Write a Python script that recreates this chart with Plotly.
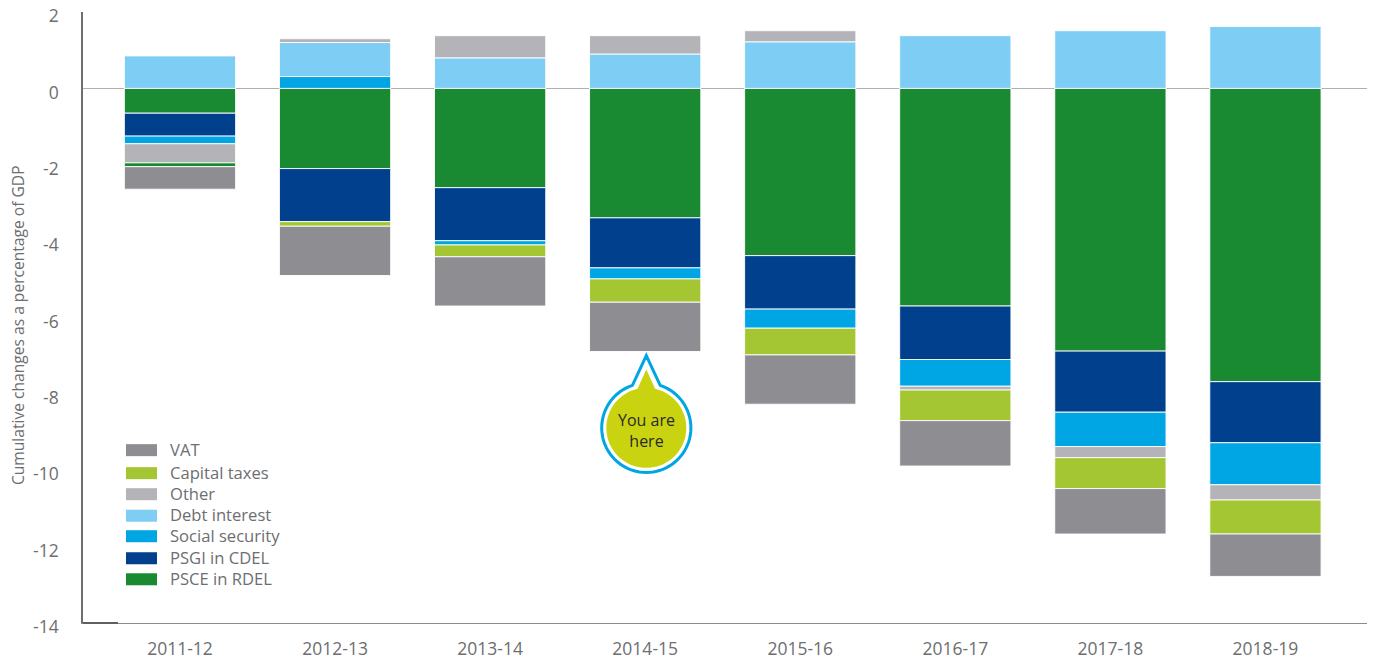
import math
import plotly.graph_objects as go

years = ["2011-12", "2012-13", "2013-14", "2014-15", "2015-16", "2016-17", "2017-18", "2018-19"]
psce_rdel = [-0.65, -2.10, -2.60, -3.39, -4.38, -5.70, -6.88, -7.68]
psgi_cdel = [-0.60, -1.39, -1.39, -1.31, -1.40, -1.40, -1.60, -1.60]
social_security = [-0.20, 0.31, -0.11, -0.29, -0.50, -0.70, -0.90, -1.10]
debt_interest = [0.85, 0.89, 0.80, 0.90, 1.22, 1.38, 1.51, 1.62]
other = [-0.50, 0.10, 0.58, 0.48, 0.29, -0.10, -0.29, -0.40]
capital_taxes = [-0.10, -0.12, -0.31, -0.61, -0.70, -0.80, -0.81, -0.89]
vat = [-0.59, -1.29, -1.29, -1.29, -1.29, -1.19, -1.19, -1.11]
y_ticks = [2, 0, -2, -4, -6, -8, -10, -12, -14]
y_title = "Cumulative changes as a percentage of GDP"
callout_text = "You are<br>here"

FONT = "Open Sans"
GREY = "#6d6e70"
C_VAT, C_CAP, C_OTHER, C_DEBT, C_SS, C_PSGI, C_PSCE = (
    "#8e8d92", "#a3c632", "#b4b3b8", "#7dcdf4", "#00a5e3", "#00408c", "#1a8a32")

# plot rectangle in page pixels
L, R, T, B = 83.0, 1367.0, 12.2, 622.7
W, H = 1375, 660
fx = lambda px: (px - L) / (R - L)
fy = lambda py: (B - py) / (B - T)

fig = go.Figure()
stack = [
    ("PSCE in RDEL", psce_rdel, C_PSCE),
    ("PSGI in CDEL", psgi_cdel, C_PSGI),
    ("Social security", social_security, C_SS),
    ("Debt interest", debt_interest, C_DEBT),
    ("Other", other, C_OTHER),
    ("Capital taxes", capital_taxes, [C_PSCE] + [C_CAP] * 7),
    ("VAT", vat, C_VAT),
]
for name, vals, col in stack:
    fig.add_trace(go.Bar(x=list(range(len(years))), y=vals, name=name, width=0.7175,
                         marker=dict(color=col, line=dict(color="rgba(255,255,255,0.9)", width=1))))

shapes, annotations = [], []

# legend
legend_rows = [("VAT", C_VAT, 450), ("Capital taxes", C_CAP, 473), ("Other", C_OTHER, 494),
               ("Debt interest", C_DEBT, 515.5), ("Social security", C_SS, 536),
               ("PSGI in CDEL", C_PSGI, 558), ("PSCE in RDEL", C_PSCE, 579)]
for label, col, py in legend_rows:
    shapes.append(dict(type="rect", xref="paper", yref="paper", x0=fx(126), x1=fx(157),
                       y0=fy(py - 6), y1=fy(py + 6), fillcolor=col, line_width=0))
    annotations.append(dict(text=label, xref="paper", yref="paper", x=fx(167.5), y=fy(py - 1),
                            xanchor="left", yanchor="middle", showarrow=False,
                            font=dict(family=FONT, size=16.6, color=GREY)))

# callout
def drop(cx, cy, r, tip_y, half, shoulder_y):
    a0 = math.atan2(shoulder_y - cy, half)
    a1 = math.pi - a0
    n = 72
    pts = [(cx, tip_y)]
    for i in range(n + 1):
        a = a0 + (a1 - a0) * i / n
        pts.append((cx + r * math.cos(a), cy + r * math.sin(a)))
    return "M" + "L".join(f"{fx(x):.5f},{fy(y):.5f}" for x, y in pts) + "Z"

CX, CY = 646.3, 427.7
shapes.append(dict(type="path", xref="paper", yref="paper",
                   path=drop(CX, CY, 44.6, 355.5, 14.0, 385.0),
                   fillcolor="white", line=dict(color="#00a5e3", width=3)))
shapes.append(dict(type="path", xref="paper", yref="paper",
                   path=drop(CX, CY, 40, 369.5, 8.5, 390.0),
                   fillcolor="#c9d30f", line_width=0))
annotations.append(dict(text=callout_text, xref="paper", yref="paper", x=fx(CX), y=fy(430),
                        xanchor="center", yanchor="middle", align="center", showarrow=False,
                        font=dict(family=FONT, size=16, color="#2b2a29")))

# y title
annotations.append(dict(text=y_title, xref="paper", yref="paper", x=fx(18), y=fy(325),
                        xanchor="center", yanchor="middle", textangle=-90, showarrow=False,
                        font=dict(family=FONT, size=15.6, color=GREY)))

# darker stub at the bottom of the y axis
shapes.append(dict(type="line", xref="paper", yref="paper", x0=0, x1=fx(118), y0=0, y1=0,
                   line=dict(color="#5f5f5f", width=2)))

fig.update_layout(
    width=W, height=H, barmode="relative", showlegend=False,
    margin=dict(l=L, r=W - R, t=T, b=H - B, pad=0),
    paper_bgcolor="white", plot_bgcolor="white",
    shapes=shapes, annotations=annotations,
    font=dict(family=FONT, color=GREY),
    xaxis=dict(range=[-0.6255, 7.655], tickmode="array", tickvals=list(range(len(years))),
               ticktext=years, showgrid=False, zeroline=False, showline=True, automargin=False,
               linecolor="#8c8c8c", linewidth=1, ticks="", ticklabelstandoff=10,
               tickfont=dict(family=FONT, size=17.5, color=GREY)),
    yaxis=dict(range=[-14, 2], tickmode="array", tickvals=y_ticks, automargin=False,
               ticktext=[str(v) for v in y_ticks], showgrid=False, zeroline=True,
               zerolinecolor="#b0b0b0", zerolinewidth=1, showline=True,
               linecolor="#6d6e70", linewidth=1.5, ticks="", ticklabelstandoff=19,
               ticklabelshift=4,
               tickfont=dict(family=FONT, size=17.5, color=GREY)),
)
fig.write_html("out.html", config={"displayModeBar": False},
               post_script="document.body.style.margin='0';document.body.style.overflow='hidden';")
